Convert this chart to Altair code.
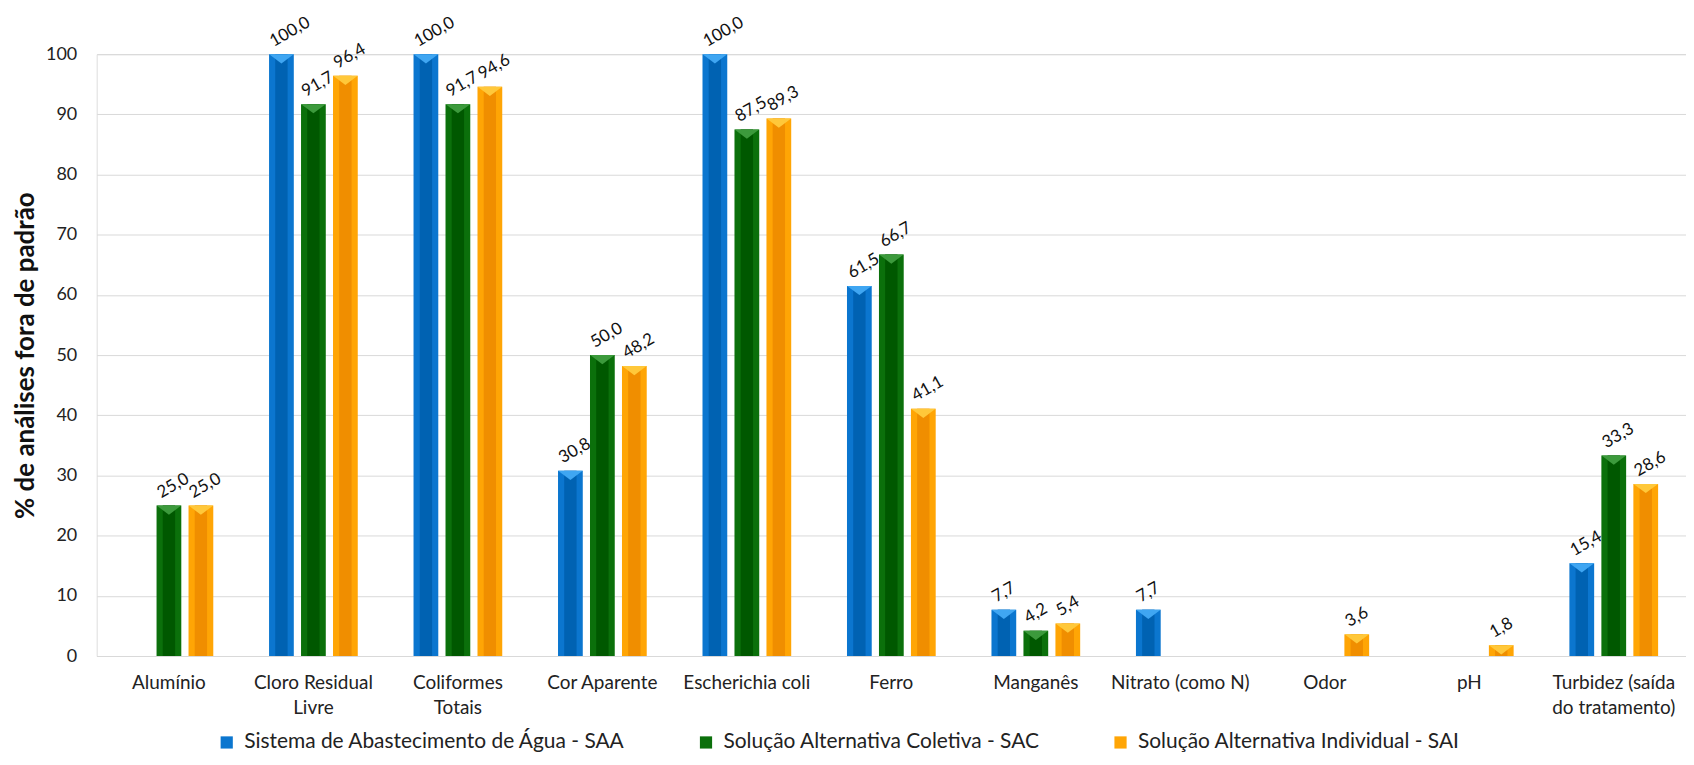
import altair as alt
import pandas as pd

categories = ["Alumínio", "Cloro Residual\nLivre", "Coliformes\nTotais", "Cor Aparente",
              "Escherichia coli", "Ferro", "Manganês", "Nitrato (como N)", "Odor", "pH",
              "Turbidez (saída\ndo tratamento)"]
series = ["Sistema de Abastecimento de Água - SAA",
          "Solução Alternativa Coletiva - SAC",
          "Solução Alternativa Individual - SAI"]
saa = [None, 100.0, 100.0, 30.8, 100.0, 61.5, 7.7, 7.7, None, None, 15.4]
sac = [25.0, 91.7, 91.7, 50.0, 87.5, 66.7, 4.2, None, None, None, 33.3]
sai = [25.0, 96.4, 94.6, 48.2, 89.3, 41.1, 5.4, None, 3.6, 1.8, 28.6]
y_ticks = list(range(0, 101, 10))

colors = ["#0B76CF", "#0B700B", "#FFA505"]
dark_colors = ["#0062B2", "#005800", "#F08E00"]
light_colors = ["#3FA6F2", "#3C9A3C", "#FFC83A"]
FONT = "Lato"

rows = []
for s, vals in zip(series, [saa, sac, sai]):
    for c, v in zip(categories, vals):
        if v is not None:
            rows.append({"cat": c, "serie": s, "valor": v,
                         "lbl": f"{v:.1f}".replace(".", ",")})
df = pd.DataFrame(rows)

base = alt.Chart(df).encode(
    x=alt.X("cat:N", sort=categories,
            scale=alt.Scale(domain=categories, paddingInner=0.386, paddingOuter=0.193),
            axis=alt.Axis(title=None, labelAngle=0, labelFontSize=19, labelFont=FONT,
                          labelColor="#222", labelPadding=18, labelLineHeight=25,
                          labelBaseline="top", ticks=False, domain=True,
                          domainColor="#d9d9d9", labelOverlap=False, labelLimit=300,
                          labelExpr="split(datum.label, '\\n')")),
    xOffset=alt.XOffset("serie:N", scale=alt.Scale(domain=series, paddingInner=0.226,
                                                    paddingOuter=0)),
    y=alt.Y("valor:Q", scale=alt.Scale(domain=[0, 100], nice=False),
            axis=alt.Axis(title="% de análises fora de padrão", values=y_ticks,
                          labelFontSize=18, labelFont=FONT, labelColor="#222",
                          labelPadding=20, ticks=False, domain=False,
                          gridColor="#d9d9d9", gridWidth=1,
                          titleFontSize=26, titleFont=FONT, titleFontWeight="bold",
                          titleColor="#111", titlePadding=7)),
)

bars = base.mark_bar().encode(
    color=alt.Color("serie:N", scale=alt.Scale(domain=series, range=colors),
                    legend=alt.Legend(title=None, orient="none", direction="horizontal",
                                      legendX=120, legendY=680, symbolType="square",
                                      symbolSize=150, symbolStrokeWidth=0,
                                      labelFontSize=21, labelFont=FONT, labelColor="#222",
                                      labelLimit=0, columnPadding=70, labelOffset=7))
)

shade = base.mark_bar(width=12.4, xOffset=6.2).encode(
    color=alt.Color("serie:N", scale=alt.Scale(domain=series, range=dark_colors),
                    legend=None)
)

bevel = base.mark_point(shape="M-1,0 L1,0 L0,0.75 Z", size=610, filled=True,
                        opacity=1, strokeWidth=0).encode(
    color=alt.Color("serie:N", scale=alt.Scale(domain=series, range=light_colors),
                    legend=None)
)

labels = base.mark_text(angle=330, align="left", baseline="alphabetic", dx=-3, dy=-10,
                        fontSize=17, font=FONT, color="#111").encode(text="lbl:N")

chart = alt.layer(bars, shade, bevel, labels).resolve_scale(color="independent").properties(
    width=1595, height=604,
    autosize=alt.AutoSizeParams(type="none"),
    padding={"left": 89, "top": 45, "right": 0, "bottom": 100},
).configure_view(stroke=None).configure(background="white")

chart.save("out.html", embed_options={"renderer": "svg", "actions": False})
